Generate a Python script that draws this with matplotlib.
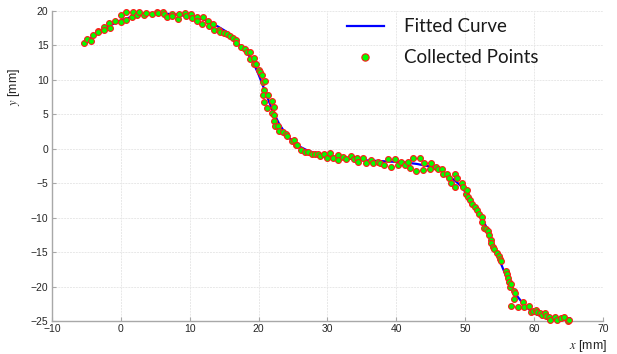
import matplotlib
matplotlib.use("Agg")
import matplotlib.pyplot as plt

# fitted curve vertices
curve_x = [-5.5, -4, -2, 0, 2, 4, 6, 8, 10, 12, 14, 15.5, 17, 18, 19, 20, 21, 22, 23,
           24, 25, 26, 27, 28, 30, 32, 35, 38, 41, 43, 45, 46.5, 47.5, 48.5, 49.5, 50.5,
           51.5, 52.5, 53.5, 54.5, 55.5, 56.5, 57.5, 58.5, 59.5, 60.5, 61.5, 63, 65.2]
curve_y = [15.2, 16.3, 17.7, 18.65, 19.3, 19.6, 19.65, 19.5, 19.2, 18.8, 17.8, 16.9, 15.3,
           14.3, 13.0, 10.8, 8.2, 5.6, 3.6, 2.1, 1.0, 0.3, -0.2, -0.55, -1.0, -1.3, -1.65,
           -1.8, -1.95, -2.2, -2.6, -3.2, -3.9, -4.6, -5.5, -7.0, -8.5, -10.2, -12.2,
           -14.9, -17.4, -19.7, -21.3, -22.6, -23.5, -24.1, -24.4, -24.6, -24.6]

# collected points
pts_x = [-5.3, -4.96, -4.4, -4.1, -3.3, -3.3, -2.45, -2.45, -1.7, -1.6, -0.86, 0.0, 0.0,
         0.74, 0.74, 1.57, 1.7, 2.4, 2.7, 3.35, 3.6, 4.47, 5.2, 5.4, 6.06, 6.2, 6.65, 7.4,
         7.5, 8.3, 8.4, 9.3, 9.4, 10.2, 10.3, 11.0, 11.1, 11.8, 11.9, 12.7, 12.8, 13.4,
         13.5, 14.2, 14.4, 15.0, 15.4, 15.8, 16.3, 16.7, 16.7, 17.5, 18.0, 18.3, 18.8,
         18.8, 19.4, 19.3, 19.6, 20.1, 20.2, 20.5, 20.6, 20.9, 20.8, 20.6, 21.4, 20.8,
         21.9, 21.25, 22.2, 22.0, 22.2, 22.2, 22.4, 22.8, 23.0, 23.5, 24.0, 24.2, 24.8,
         25.1, 25.4, 25.6, 26.2, 26.7, 27.2, 27.7, 28.2, 28.7, 28.9, 29.5, 29.9, 30.4,
         30.8, 31.6, 31.6, 32.3, 32.7, 33.4, 33.8, 34.3, 34.5, 35.2, 35.6, 36.3, 36.6,
         37.3, 37.6, 38.2, 38.8, 39.2, 39.8, 40.2, 40.75, 41.2, 41.7, 42.0, 42.5, 42.9,
         43.5, 43.9, 44.0, 44.9, 45.0, 45.7, 46.0, 46.7, 46.8, 47.4, 47.7, 47.9, 48.5,
         48.6, 48.8, 49.6, 49.7, 50.1, 50.3, 50.4, 50.7, 51.0, 51.4, 51.7, 52.0, 52.4,
         52.5, 52.8, 53.0, 53.3, 53.5, 53.7, 53.7, 54.05, 54.2, 54.6, 54.9, 55.1, 55.2,
         55.9, 56.1, 56.2, 56.4, 56.5, 56.6, 57.05, 57.2, 57.05, 56.7, 57.7, 58.4, 58.5,
         59.3, 59.5, 59.9, 60.3, 60.5, 60.9, 61.1, 61.55, 61.7, 62.2, 62.4, 63.0, 63.3,
         64.0, 64.3, 64.95, 65.1]
pts_y = [15.3, 15.9, 15.6, 16.5, 17.1, 16.9, 17.7, 17.3, 18.3, 17.6, 18.6, 19.4, 18.4,
         19.8, 18.7, 19.1, 19.9, 19.4, 19.9, 19.4, 19.75, 19.56, 19.8, 19.7, 19.85, 19.6,
         19.2, 19.5, 19.3, 18.9, 19.5, 19.75, 19.3, 19.5, 19.0, 19.2, 18.6, 18.1, 19.2,
         18.6, 17.8, 18.1, 17.3, 17.3, 17.0, 16.8, 16.6, 16.4, 16.1, 15.8, 15.3, 14.8,
         14.5, 14.1, 14.1, 13.1, 13.2, 12.3, 12.3, 11.5, 11.2, 10.7, 9.7, 9.8, 8.5, 7.8,
         7.8, 6.8, 6.9, 5.9, 6.0, 5.2, 4.9, 4.0, 3.3, 3.3, 2.6, 2.5, 2.1, 1.8, 1.1, 1.3,
         0.55, 0.5, -0.2, -0.4, -0.5, -0.7, -0.8, -0.7, -1.0, -0.8, -1.3, -0.65, -1.3,
         -0.9, -1.6, -1.25, -1.5, -1.05, -1.5, -1.3, -1.9, -1.3, -2.0, -1.65, -2.0, -1.9,
         -2.0, -2.35, -1.5, -2.7, -1.5, -2.35, -1.96, -2.35, -1.9, -2.8, -1.4, -3.2, -1.4,
         -3.1, -2.0, -3.0, -2.1, -2.6, -3.0, -3.0, -3.6, -3.6, -4.2, -4.9, -3.6, -5.6,
         -4.2, -4.9, -5.6, -6.5, -6.0, -7.0, -7.4, -8.0, -8.4, -8.9, -9.5, -9.85, -10.7,
         -11.5, -11.6, -12.0, -12.5, -13.2, -13.7, -14.2, -14.5, -15.1, -15.5, -16.0,
         -16.3, -17.8, -18.2, -18.8, -19.3, -20.1, -19.6, -20.6, -21.0, -21.8, -22.8,
         -23.0, -22.2, -23.0, -22.8, -23.65, -23.5, -23.4, -23.65, -23.9, -24.1, -23.8,
         -24.3, -24.4, -24.8, -24.45, -24.8, -24.6, -24.45, -24.95, -24.9]

x_ticks = [-10, 0, 10, 20, 30, 40, 50, 60, 70]
y_ticks = [-25, -20, -15, -10, -5, 0, 5, 10, 15, 20]

plt.rcParams['font.family'] = ['Liberation Sans', 'DejaVu Sans']
plt.rcParams['mathtext.fontset'] = 'stix'

fig = plt.figure(figsize=(6.17, 3.54), dpi=100)
ax = fig.add_axes([0.0843, 0.0932, 0.8927, 0.8757])

ax.plot(curve_x, curve_y, color='#0000ff', lw=1.6, label='Fitted Curve', zorder=2)
ax.plot(pts_x, pts_y, ls='none', marker='o', ms=4.2, mfc='#00ff00', mec='#ff1a1a',
        mew=0.8, label='Collected Points', zorder=3, clip_on=False)

ax.set_xlim(-10, 70)
ax.set_ylim(-25, 20)
ax.set_xticks(x_ticks)
ax.set_yticks(y_ticks)
ax.grid(True, color='#e8e8e8', lw=0.7, ls=(0, (2, 1)))
ax.set_axisbelow(True)

for s in ['top', 'right']:
    ax.spines[s].set_visible(False)
for s in ['left', 'bottom']:
    ax.spines[s].set_color('#a8a8a8')
    ax.spines[s].set_linewidth(1.0)
ax.tick_params(direction='in', length=3, color='#a8a8a8', labelsize=7.5,
               labelcolor='#262626', pad=2.5)

ax.set_xlabel('$x$ [mm]', fontsize=9, color='#262626', ha='right')
ax.xaxis.set_label_coords(1.008, -0.055)
ax.set_ylabel('$y$ [mm]', fontsize=9, color='#262626')
ax.yaxis.set_label_coords(-0.055, 0.755)

leg = ax.legend(loc='upper left', bbox_to_anchor=(0.547, 0.975),
                bbox_transform=fig.transFigure, frameon=False, numpoints=1,
                markerscale=1.25, borderpad=0, handlelength=1.97, handletextpad=1.08,
                labelspacing=0.75, prop={'family': 'Lato', 'size': 13.5})
for t in leg.get_texts():
    t.set_color('#1a1a1a')

fig.savefig('out.png', dpi=100)
